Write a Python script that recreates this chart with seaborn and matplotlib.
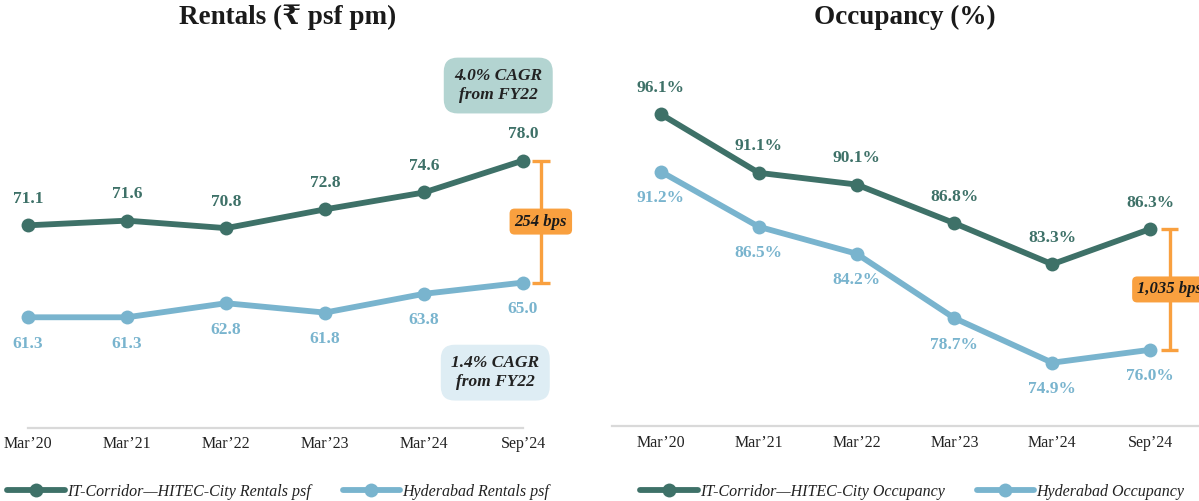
import numpy as np
import pandas as pd
import matplotlib
matplotlib.use("Agg")
import matplotlib.pyplot as plt
import seaborn as sns

# ---- data ----
periods = ["Mar\u201920", "Mar\u201921", "Mar\u201922", "Mar\u201923", "Mar\u201924", "Sep\u201924"]
rent_corridor = [71.1, 71.6, 70.8, 72.8, 74.6, 78.0]
rent_hyderabad = [61.3, 61.3, 62.8, 61.8, 63.8, 65.0]
occ_corridor = [96.1, 91.1, 90.1, 86.8, 83.3, 86.3]
occ_hyderabad = [91.2, 86.5, 84.2, 78.7, 74.9, 76.0]

rent_labels = ["IT-Corridor\u2014HITEC-City Rentals psf", "Hyderabad Rentals psf"]
occ_labels = ["IT-Corridor\u2014HITEC-City Occupancy", "Hyderabad Occupancy"]
rent_gap = "254 bps"
occ_gap = "1,035 bps"
cagr_corridor = "4.0% CAGR\nfrom FY22"
cagr_hyderabad = "1.4% CAGR\nfrom FY22"
titles = ["Rentals (\u20b9 psf pm)", "Occupancy (%)"]

DARK = "#3e7168"
LIGHT = "#79b4ce"
ORANGE = "#f9a03f"
AXIS = "#d9d9d9"

sns.set_style("white")
plt.rcParams["font.family"] = ["Liberation Serif", "DejaVu Serif"]

W, H = 1199, 501
fig = plt.figure(figsize=(W / 100, H / 100), dpi=100)


def frac(x0, y_bottom, w, h):
    return [x0 / W, (H - y_bottom) / H, w / W, h / H]


ax1 = fig.add_axes(frac(28, 428, 495, 380))
ax2 = fig.add_axes(frac(612, 426, 587, 357.5))

x = np.arange(len(periods))


def draw_series(ax, values, color, label):
    df = pd.DataFrame({"x": x, "y": values})
    sns.lineplot(data=df, x="x", y="y", ax=ax, color=color, linewidth=4.2,
                 marker="o", markersize=10, markeredgecolor=color,
                 markeredgewidth=0, label=label, sort=False, clip_on=False)


def value_labels(ax, values, color, above, fmt):
    for xi, v in zip(x, values):
        ax.annotate(fmt.format(v), (xi, v), xytext=(0, 19 if above else -19),
                    textcoords="offset points", ha="center", va="center",
                    fontsize=12.5, fontweight="bold", color=color)


def gap_bracket(ax, xpos, top, bottom, text):
    cap = 0.09
    kw = dict(color=ORANGE, linewidth=2.4, clip_on=False, solid_capstyle="butt")
    ax.plot([xpos, xpos], [bottom, top], **kw)
    ax.plot([xpos - cap, xpos + cap], [top, top], **kw)
    ax.plot([xpos - cap, xpos + cap], [bottom, bottom], **kw)
    ax.text(xpos, (top + bottom) / 2, text, ha="center", va="center",
            fontsize=12, fontweight="bold", fontstyle="italic", color="#1a1a1a",
            clip_on=False,
            bbox=dict(boxstyle="round,pad=0.3,rounding_size=0.3",
                      facecolor=ORANGE, edgecolor="none"))


def style_axis(ax):
    for s in ["top", "left", "right"]:
        ax.spines[s].set_visible(False)
    ax.spines["bottom"].set_color(AXIS)
    ax.spines["bottom"].set_linewidth(1.6)
    ax.set_yticks([])
    ax.set_xlabel("")
    ax.set_ylabel("")
    ax.grid(False)


# ---- Rentals ----
draw_series(ax1, rent_corridor, DARK, rent_labels[0])
draw_series(ax1, rent_hyderabad, LIGHT, rent_labels[1])
ax1.set_xlim(0, 5)
ax1.set_ylim(49.5, 90)
style_axis(ax1)
ax1.set_xticks(x)
ax1.set_xticklabels(periods)
ax1.tick_params(axis="x", direction="out", length=4, width=1.2, color=AXIS,
                labelsize=11.5, labelcolor="#222222", pad=1.5)
value_labels(ax1, rent_corridor, DARK, True, "{:.1f}")
value_labels(ax1, rent_hyderabad, LIGHT, False, "{:.1f}")
gap_bracket(ax1, 5.18, rent_corridor[-1], rent_hyderabad[-1], rent_gap)

ax1.text(4.75, 86.0, cagr_corridor, ha="center", va="center", fontsize=12.5,
         fontweight="bold", fontstyle="italic", color="#222222", linespacing=1.25,
         bbox=dict(boxstyle="round,pad=0.6,rounding_size=0.8",
                   facecolor="#b3d4d1", edgecolor="none"))
ax1.text(4.72, 55.4, cagr_hyderabad, ha="center", va="center", fontsize=12.5,
         fontweight="bold", fontstyle="italic", color="#222222", linespacing=1.25,
         bbox=dict(boxstyle="round,pad=0.6,rounding_size=0.8",
                   facecolor="#deedf4", edgecolor="none"))

# ---- Occupancy ----
draw_series(ax2, occ_corridor, DARK, occ_labels[0])
draw_series(ax2, occ_hyderabad, LIGHT, occ_labels[1])
ax2.set_xlim(-0.5, 5.5)
ax2.set_ylim(69.5, 100)
style_axis(ax2)
ax2.set_xticks(x)
ax2.set_xticklabels(periods)
ax2.set_xticks(np.arange(-0.5, 6.0, 1.0), minor=True)
ax2.tick_params(axis="x", which="major", length=0, labelsize=11.5,
                labelcolor="#222222", pad=6.5)
ax2.tick_params(axis="x", which="minor", direction="out", length=4, width=1.2,
                color=AXIS)
value_labels(ax2, occ_corridor, DARK, True, "{:.1f}%")
value_labels(ax2, occ_hyderabad, LIGHT, False, "{:.1f}%")
gap_bracket(ax2, 5.2, occ_corridor[-1], occ_hyderabad[-1], occ_gap)

# ---- panel titles ----
for txt, xc in zip(titles, [288, 905]):
    fig.text(xc / W, (H - 17) / H, txt, ha="center", va="center",
             fontsize=19.5, fontweight="bold", color="#1a1a1a")

# ---- legends ----
for ax, anchor_x in [(ax1, 7), (ax2, 640)]:
    leg = ax.legend(loc="center left", bbox_to_anchor=(anchor_x / W, (H - 492) / H),
                    bbox_transform=fig.transFigure, ncol=2, frameon=False,
                    prop={"family": ["Liberation Serif", "DejaVu Serif"],
                          "style": "italic", "size": 11.5},
                    handlelength=3.6, handletextpad=0.15, columnspacing=2.0,
                    borderaxespad=0, borderpad=0)
    for t in leg.get_texts():
        t.set_color("#222222")

fig.savefig("out.png", dpi=100)
